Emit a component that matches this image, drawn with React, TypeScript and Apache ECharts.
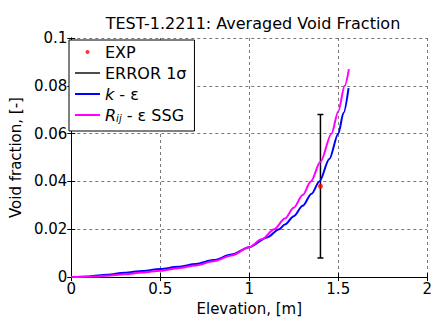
import React, { useEffect, useRef } from "react";
import * as echarts from "echarts";

const titleText = "TEST-1.2211: Averaged Void Fraction";
const xTickLabels = ["0", "0.5", "1", "1.5", "2"];
const yTickLabels = ["0", "0.02", "0.04", "0.06", "0.08", "0.1"];

const kEpsX = [0, 0.1, 0.2, 0.3, 0.4, 0.5, 0.6, 0.7, 0.8, 0.9, 1.0, 1.1, 1.168, 1.2, 1.25, 1.3, 1.35, 1.394, 1.45, 1.5, 1.53, 1.558];
const kEpsY = [0, 0.0003, 0.001, 0.0018, 0.0026, 0.0034, 0.0043, 0.0055, 0.0071, 0.0094, 0.0125, 0.0166, 0.02, 0.022, 0.0255, 0.0298, 0.0349, 0.04, 0.0494, 0.06, 0.0687, 0.079];

const rijX = [0, 0.1, 0.15, 0.2, 0.3, 0.4, 0.5, 0.6, 0.7, 0.8, 0.9, 1.0, 1.07, 1.14, 1.2, 1.25, 1.3, 1.346, 1.4, 1.462, 1.5, 1.536, 1.56];
const rijY = [0, 0.0001, 0.0003, 0.0006, 0.0012, 0.0019, 0.0027, 0.0037, 0.0049, 0.0066, 0.009, 0.0125, 0.0158, 0.02, 0.0245, 0.029, 0.0343, 0.04, 0.0482, 0.06, 0.0693, 0.08, 0.087];

const expX = [1.4];
const expY = [0.038];
const errLow = [0.008];
const errHigh = [0.068];

const FONT = "DejaVu Sans";

export default function App() {
  const ref = useRef<HTMLDivElement>(null);
  useEffect(() => {
    if (!ref.current) return;
    const chart = echarts.init(ref.current, null, { renderer: "svg" });
    const gridLine = { show: true, lineStyle: { color: "#555", width: 0.8, type: [3, 3] } };
    const option: any = {
      animation: false,
      backgroundColor: "#fff",
      title: {
        text: titleText,
        left: 248,
        textAlign: "center",
        top: 10,
        textStyle: { fontFamily: FONT, fontSize: 16, fontWeight: "normal", color: "#000" },
      },
      grid: { left: 67, top: 38, right: 6, bottom: 35 },
      legend: {
        orient: "vertical",
        left: 69,
        top: 40,
        padding: [4, 8, 8, 6],
        itemGap: 5,
        itemWidth: 25,
        itemHeight: 4,
        borderColor: "#000",
        borderWidth: 1,
        backgroundColor: "#fff",
        data: [
          { name: "EXP", icon: "circle" },
          { name: "ERROR 1σ", icon: "path://M0 0H25V1.4H0Z" },
          { name: "k - ε", icon: "path://M0 0H25V2H0Z" },
          { name: "Rij - ε SSG", icon: "path://M0 0H25V2H0Z" },
        ],
        formatter: (name: string) => {
          if (name === "k - ε") return "{it|k} - ε";
          if (name === "Rij - ε SSG") return "{it|R}{sub|ij} - ε SSG";
          return name;
        },
        textStyle: {
          fontFamily: FONT,
          fontSize: 16,
          lineHeight: 16,
          color: "#000",
          rich: {
            it: { fontFamily: FONT, fontSize: 16, fontStyle: "italic", color: "#000", lineHeight: 16 },
            sub: { fontFamily: FONT, fontSize: 10, fontStyle: "italic", color: "#000", lineHeight: 9, verticalAlign: "bottom" },
          },
        },
      },
      xAxis: [
        {
          type: "value",
          min: 0,
          max: 2,
          interval: 0.5,
          name: "Elevation, [m]",
          nameLocation: "middle",
          nameGap: 19,
          nameTextStyle: { fontFamily: FONT, fontSize: 15, color: "#000" },
          axisLine: { show: true, lineStyle: { color: "#000", width: 1 } },
          axisTick: { show: true, inside: true, length: 4, lineStyle: { color: "#000" } },
          axisLabel: {
            fontFamily: FONT,
            fontSize: 15,
            color: "#000",
            margin: 4,
            formatter: (v: number) => xTickLabels[Math.round(v / 0.5)] ?? "",
          },
          splitLine: gridLine,
        },
        {
          type: "value",
          position: "top",
          min: 0,
          max: 2,
          interval: 0.5,
          axisLine: { show: true, lineStyle: { color: "#000", width: 1 } },
          axisTick: { show: true, inside: true, length: 4, lineStyle: { color: "#000" } },
          axisLabel: { show: false },
          splitLine: { show: false },
        },
      ],
      yAxis: [
        {
          type: "value",
          min: 0,
          max: 0.1,
          interval: 0.02,
          name: "Void fraction, [-]",
          nameLocation: "middle",
          nameGap: 40,
          nameTextStyle: { fontFamily: FONT, fontSize: 15, color: "#000" },
          axisLine: { show: true, lineStyle: { color: "#000", width: 1 } },
          axisTick: { show: true, inside: true, length: 4, lineStyle: { color: "#000" } },
          axisLabel: {
            fontFamily: FONT,
            fontSize: 15,
            color: "#000",
            margin: 4,
            formatter: (v: number) => yTickLabels[Math.round(v / 0.02)] ?? "",
          },
          splitLine: gridLine,
        },
        {
          type: "value",
          position: "right",
          min: 0,
          max: 0.1,
          interval: 0.02,
          axisLine: { show: true, lineStyle: { color: "#000", width: 1 } },
          axisTick: { show: true, inside: true, length: 4, lineStyle: { color: "#000" } },
          axisLabel: { show: false },
          splitLine: { show: false },
        },
      ],
      series: [
        {
          name: "EXP",
          type: "scatter",
          symbol: "circle",
          symbolSize: 5,
          itemStyle: { color: "#ff0000" },
          data: expX.map((x, i) => [x, expY[i]]),
          z: 3,
        },
        {
          name: "ERROR 1σ",
          type: "custom",
          itemStyle: { color: "#000" },
          data: expX.map((x, i) => [x, errLow[i], errHigh[i]]),
          encode: { x: 0, y: [1, 2] },
          renderItem: (params: any, api: any) => {
            const lo = api.coord([api.value(0), api.value(1)]);
            const hi = api.coord([api.value(0), api.value(2)]);
            const hw = 3;
            const st = { stroke: "#000", lineWidth: 1.5 };
            return {
              type: "group",
              children: [
                { type: "line", shape: { x1: lo[0], y1: lo[1], x2: hi[0], y2: hi[1] }, style: st },
                { type: "line", shape: { x1: lo[0] - hw, y1: lo[1], x2: lo[0] + hw, y2: lo[1] }, style: st },
                { type: "line", shape: { x1: hi[0] - hw, y1: hi[1], x2: hi[0] + hw, y2: hi[1] }, style: st },
              ],
            };
          },
          z: 2,
        },
        {
          name: "k - ε",
          type: "line",
          symbol: "none",
          smooth: 0.3,
          smoothMonotone: "x",
          lineStyle: { color: "#0000ff", width: 2 },
          itemStyle: { color: "#0000ff" },
          data: kEpsX.map((x, i) => [x, kEpsY[i]]),
          z: 4,
        },
        {
          name: "Rij - ε SSG",
          type: "line",
          symbol: "none",
          smooth: 0.3,
          smoothMonotone: "x",
          lineStyle: { color: "#ff00ff", width: 2 },
          itemStyle: { color: "#ff00ff" },
          data: rijX.map((x, i) => [x, rijY[i]]),
          z: 5,
        },
      ],
    };
    chart.setOption(option);
    return () => chart.dispose();
  }, []);
  return (
    <div
      ref={ref}
      style={{ position: "fixed", left: 0, top: 0, width: 435, height: 321, background: "#fff" }}
    />
  );
}
